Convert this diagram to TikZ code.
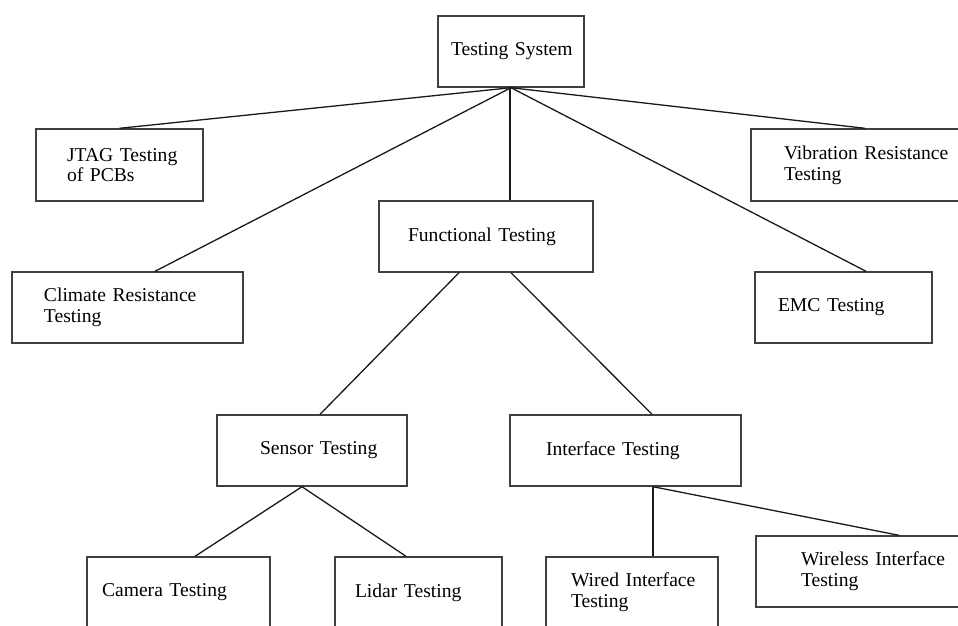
\documentclass[tikz,border=0pt]{standalone}
\usepackage{fontspec}
\setmainfont{Liberation Serif}
\usepackage{tikz}

\begin{document}
\begin{tikzpicture}[
  x=1pt,y=-1pt,
  box/.style={draw=black!75,line width=1.4pt,fill=white,inner xsep=0pt,inner ysep=0pt,align=left,minimum height=71pt,font=\fontsize{19.6}{20.8}\selectfont},
  lpad/.style={execute at begin node={\leftskip=#1pt}},
  link/.style={line width=1.3pt,draw=black!90}
]
\useasboundingbox (0,0) rectangle (958,625);
\clip (0,0) rectangle (958,625);
\node[box,text width=146pt,lpad=13] (sys) at (511,51.5) {Testing System};
\node[box,text width=167pt,lpad=31,minimum height=72pt] (jtag) at (119.5,165) {JTAG Testing\\of PCBs};
\node[box,text width=228pt,lpad=33,minimum height=72pt] (vib) at (865,165) {Vibration Resistance\\Testing};
\node[box,text width=214pt,lpad=29] (func) at (486,236.5) {Functional Testing};
\node[box,text width=231pt,lpad=32] (clim) at (127.5,307.5) {Climate Resistance\\Testing};
\node[box,text width=177pt,lpad=23] (emc) at (843.5,307.5) {EMC Testing};
\node[box,text width=190pt,lpad=43] (sens) at (312,450.5) {Sensor Testing};
\node[box,text width=231pt,lpad=36] (intf) at (625.5,450.5) {Interface Testing};
\node[box,text width=183pt,lpad=15] (cam) at (178.5,592.5) {Camera Testing};
\node[box,text width=167pt,lpad=20] (lid) at (418.5,592.5) {Lidar Testing};
\node[box,text width=172pt,lpad=25] (wired) at (632,592.5) {Wired Interface\\Testing};
\node[box,text width=244pt,lpad=45] (wless) at (878,571.5) {Wireless Interface\\Testing};
% top level
\draw[link] (sys.south) -- (jtag.north);
\draw[link] (sys.south) -- ([xshift=27.5pt]clim.north);
\draw[link] ([xshift=-1pt]sys.south) -- ([xshift=24pt]func.north);
\draw[link] (sys.south) -- ([xshift=22.5pt]emc.north);
\draw[link] (sys.south) -- (vib.north);
% functional branch
\draw[link] ([xshift=-27pt]func.south) -- ([xshift=8pt]sens.north);
\draw[link] ([xshift=25pt]func.south) -- ([xshift=26.5pt]intf.north);
\draw[link] ([xshift=-10pt]sens.south) -- ([xshift=16.5pt]cam.north);
\draw[link] ([xshift=-10pt]sens.south) -- ([xshift=-12.5pt]lid.north);
\draw[link] ([xshift=27.5pt]intf.south) -- ([xshift=21pt]wired.north);
\draw[link] ([xshift=27.5pt]intf.south) -- ([xshift=21pt]wless.north);
\end{tikzpicture}
\end{document}
